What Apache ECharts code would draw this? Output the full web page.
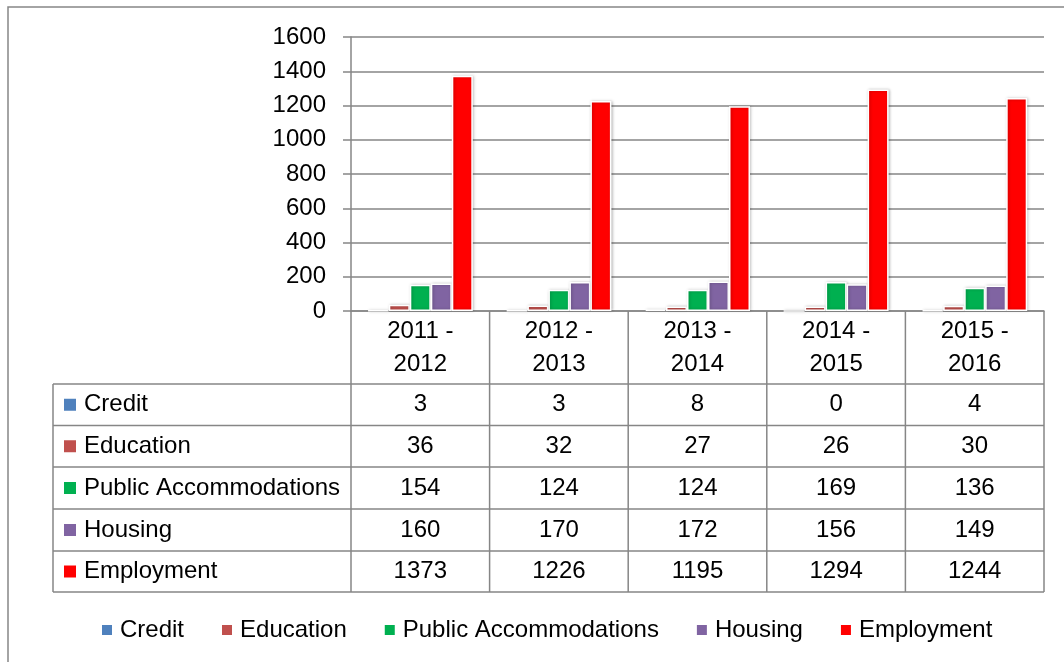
<!DOCTYPE html>
<html>
<head>
<meta charset="utf-8">
<script src="https://cdn.jsdelivr.net/npm/echarts@6/dist/echarts.min.js"></script>
<style>
  html, body { margin: 0; padding: 0; background: #fff; }
  #chart { width: 1064px; height: 662px; }
</style>
</head>
<body>
<div id="chart"></div>
<script>
// data
const categories = ['2011 - 2012', '2012 - 2013', '2013 - 2014', '2014 - 2015', '2015 - 2016'];
const seriesNames = ['Credit', 'Education', 'Public Accommodations', 'Housing', 'Employment'];
const credit = [3, 3, 8, 0, 4];
const education = [36, 32, 27, 26, 30];
const publicAccommodations = [154, 124, 124, 169, 136];
const housing = [160, 170, 172, 156, 149];
const employment = [1373, 1226, 1195, 1294, 1244];
const yMin = 0, yMax = 1600, yStep = 200;

const values = [credit, education, publicAccommodations, housing, employment];
const colors = ['#4F81BD', '#C0504D', '#00B050', '#8064A2', '#FF0000'];
const font = 'Liberation Sans';
const lineGray = '#868686';

const chart = echarts.init(document.getElementById('chart'));

chart.setOption({
    animation: false,
    color: colors,
    grid: { left: 351, right: 20, top: 37, bottom: 351 },
    legend: {
        data: seriesNames,
        top: 613, left: 97,
        icon: 'rect', itemWidth: 10, itemHeight: 10, itemGap: 38,
        itemStyle: { borderWidth: 0, shadowBlur: 0, shadowOffsetX: 0 },
        textStyle: { fontFamily: font, fontSize: 24, color: '#000', padding: [0, 0, 0, 3] }
    },
    xAxis: {
        type: 'category',
        data: categories,
        axisLine: { lineStyle: { color: lineGray, width: 1.5 } },
        axisTick: { show: false },
        axisLabel: {
            margin: 4, fontFamily: font, fontSize: 24, color: '#000', lineHeight: 33,
            formatter: v => v.replace(' - ', ' -\n')
        }
    },
    yAxis: {
        type: 'value', min: yMin, max: yMax, interval: yStep,
        axisLine: { show: true, lineStyle: { color: lineGray, width: 1.5 } },
        axisTick: { show: true, length: 8, lineStyle: { color: lineGray, width: 1.5 } },
        splitLine: { lineStyle: { color: lineGray, width: 1.5 } },
        axisLabel: { margin: 25, fontFamily: font, fontSize: 24, color: '#000', formatter: v => String(v) }
    },
    series: seriesNames.map((name, i) => ({
        type: 'bar', name: name, data: values[i],
        barWidth: 21, barGap: '0%',
        itemStyle: {
            borderColor: '#fff', borderWidth: 1.5,
            shadowBlur: 3, shadowColor: 'rgba(0,0,0,0.25)', shadowOffsetX: 1
        }
    }))
});

// data table below the axis, placed from the category axis
const centers = categories.map(c => chart.convertToPixel({ xAxisIndex: 0 }, c));
const band = centers[1] - centers[0];
const tableLeft = 53;
const rowTops = [384, 425.5, 467, 509, 551, 592];
const axisY = chart.convertToPixel({ yAxisIndex: 0 }, 0);
const bounds = [centers[0] - band / 2].concat(centers.map(c => c + band / 2));
const tableRight = bounds[bounds.length - 1];
const lineStyle = { stroke: lineGray, lineWidth: 1.5 };

const graphics = [{
    type: 'rect', silent: true,
    shape: { x: 8, y: 7, width: 1100, height: 700 },
    style: { fill: 'none', stroke: lineGray, lineWidth: 1.5 }
}, {
    type: 'line', silent: true,
    shape: { x1: tableLeft, y1: rowTops[0], x2: tableLeft, y2: rowTops[rowTops.length - 1] },
    style: lineStyle
}];

bounds.forEach(x => {
    graphics.push({
        type: 'line', silent: true,
        shape: { x1: x, y1: axisY, x2: x, y2: rowTops[rowTops.length - 1] },
        style: lineStyle
    });
});

rowTops.forEach(y => {
    graphics.push({
        type: 'line', silent: true,
        shape: { x1: tableLeft, y1: y, x2: tableRight, y2: y },
        style: lineStyle
    });
});

seriesNames.forEach((name, i) => {
    const cy = (rowTops[i] + rowTops[i + 1]) / 2;
    graphics.push({
        type: 'rect', silent: true,
        shape: { x: 64, y: cy - 6, width: 12, height: 12 },
        style: { fill: colors[i] }
    });
    graphics.push({
        type: 'text', silent: true, x: 84, y: cy,
        style: { text: name, fontFamily: font, fontSize: 24, fill: '#000', verticalAlign: 'middle' }
    });
    values[i].forEach((v, j) => {
        graphics.push({
            type: 'text', silent: true, x: centers[j], y: cy,
            style: { text: String(v), fontFamily: font, fontSize: 24, fill: '#000', align: 'center', verticalAlign: 'middle' }
        });
    });
});

chart.setOption({ graphic: graphics });
</script>
</body>
</html>
